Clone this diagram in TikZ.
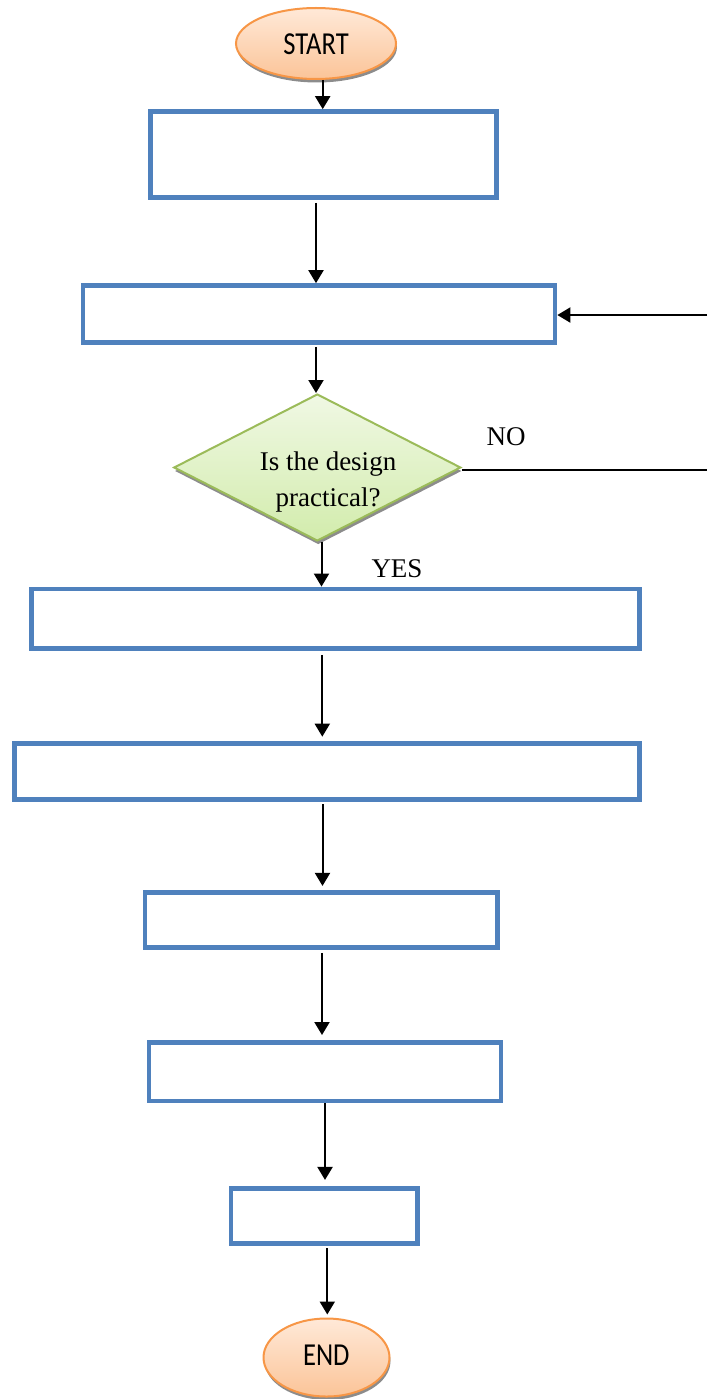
\documentclass[tikz,border=0pt]{standalone}
\usepackage{fontspec}
\setmainfont{Liberation Serif}
\newfontfamily\calib[FakeStretch=0.83]{Carlito}
\usetikzlibrary{arrows.meta,shapes.geometric,shadows}
\definecolor{boxblue}{RGB}{79,129,189}
\definecolor{ovalline}{RGB}{247,150,70}
\definecolor{ovaltop}{RGB}{255,233,216}
\definecolor{ovalbot}{RGB}{251,196,152}
\definecolor{dialine}{RGB}{155,187,89}
\definecolor{diatop}{RGB}{240,248,228}
\definecolor{diabot}{RGB}{210,236,172}
\tikzset{
  stepbox/.style={draw=boxblue, line width=4.7pt, fill=white, rectangle, inner sep=0pt},
  oval/.style={ellipse, draw=ovalline, line width=2pt, top color=ovaltop, bottom color=ovalbot,
     inner sep=0pt, drop shadow={shadow xshift=1pt, shadow yshift=-3.5pt, fill=black, opacity=0.45}},
  decide/.style={diamond, draw=dialine, line width=2pt, top color=diatop, bottom color=diabot,
     inner sep=0pt, drop shadow={shadow xshift=1pt, shadow yshift=-3.5pt, fill=black, opacity=0.45}},
  arr/.style={line width=2pt, -{Triangle[length=13pt,width=15pt]}},
  plain/.style={line width=2pt},
  sertext/.style={font=\fontsize{27}{35.8}\selectfont, inner sep=0pt},
  santext/.style={font=\calib\fontsize{32}{38}\selectfont, inner sep=0pt}
}
\begin{document}
\begin{tikzpicture}[x=1pt,y=-1pt]
\useasboundingbox (0,0) rectangle (707,1399);

% terminals
\node[oval, minimum width=160pt, minimum height=71pt] (start) at (316,43.5) {};
\node[santext, anchor=base] (starttxt) at (316,55) {START};
\node[oval, minimum width=126pt, minimum height=78pt] (end) at (326.5,1357.5) {};
\node[santext, anchor=base] (endtxt) at (326.3,1365) {END};

% process boxes
\node[stepbox, minimum width=346pt, minimum height=86pt] (b1) at (323.5,154.5) {};
\node[stepbox, minimum width=472pt, minimum height=57pt] (b2) at (319,314) {};
\node[stepbox, minimum width=608pt, minimum height=59.3pt] (b3) at (335.6,618.6) {};
\node[stepbox, minimum width=625.3pt, minimum height=55.8pt] (b4) at (327,771.5) {};
\node[stepbox, minimum width=352.7pt, minimum height=55.4pt] (b5) at (321.3,920) {};
\node[stepbox, minimum width=352pt, minimum height=58.7pt] (b6) at (325,1071.7) {};
\node[stepbox, minimum width=186.7pt, minimum height=55pt] (b7) at (324.3,1215.8) {};

% decision
\node[decide, minimum width=287pt, minimum height=147pt] (dec) at (317.3,467.5) {};
\node[sertext, align=center] (dectxt) at (328,482.4) {Is the design\\practical?};
\node[sertext, anchor=base] (no) at (506,445) {NO};
\node[sertext, anchor=base] (yes) at (397,577) {YES};

% free ends at the right border
\coordinate (r1) at (707,315);
\coordinate (r2) at (707,470);

% connectors
\draw[arr] ([xshift=6.7pt]start.south) -- ([xshift=6.7pt]start.south |- b1.north);
\draw[arr, shorten <=3pt] ([xshift=-7.5pt]b1.south) -- ([xshift=-7.5pt]b1.south |- b2.north);
\draw[arr, shorten <=2pt] ([xshift=-3pt]b2.south) -- ([xshift=-3pt]b2.south |- dec.north);
\draw[arr] ([xshift=4.2pt]dec.south) -- ([xshift=4.2pt]dec.south |- b3.north);
\draw[arr, shorten <=4.3pt, shorten >=4.6pt] ([xshift=-13.3pt]b3.south) -- ([xshift=-13.3pt]b3.south |- b4.north);
\draw[arr, shorten <=2.5pt, shorten >=4pt] ([xshift=-4.5pt]b4.south) -- ([xshift=-4.5pt]b4.south |- b5.north);
\draw[arr, shorten <=2.7pt, shorten >=5pt] ([xshift=0.7pt]b5.south) -- ([xshift=0.7pt]b5.south |- b6.north);
\draw[arr, shorten >=6pt] (b6.south) -- (b6.south |- b7.north);
\draw[arr, shorten <=2.6pt, shorten >=3pt] ([xshift=3pt]b7.south) -- ([xshift=3pt]b7.south |- end.north);
\draw[arr] (r1) -- (r1 -| b2.east);
\draw[plain] (r2 -| dec.east) -- (r2);
\end{tikzpicture}
\end{document}
